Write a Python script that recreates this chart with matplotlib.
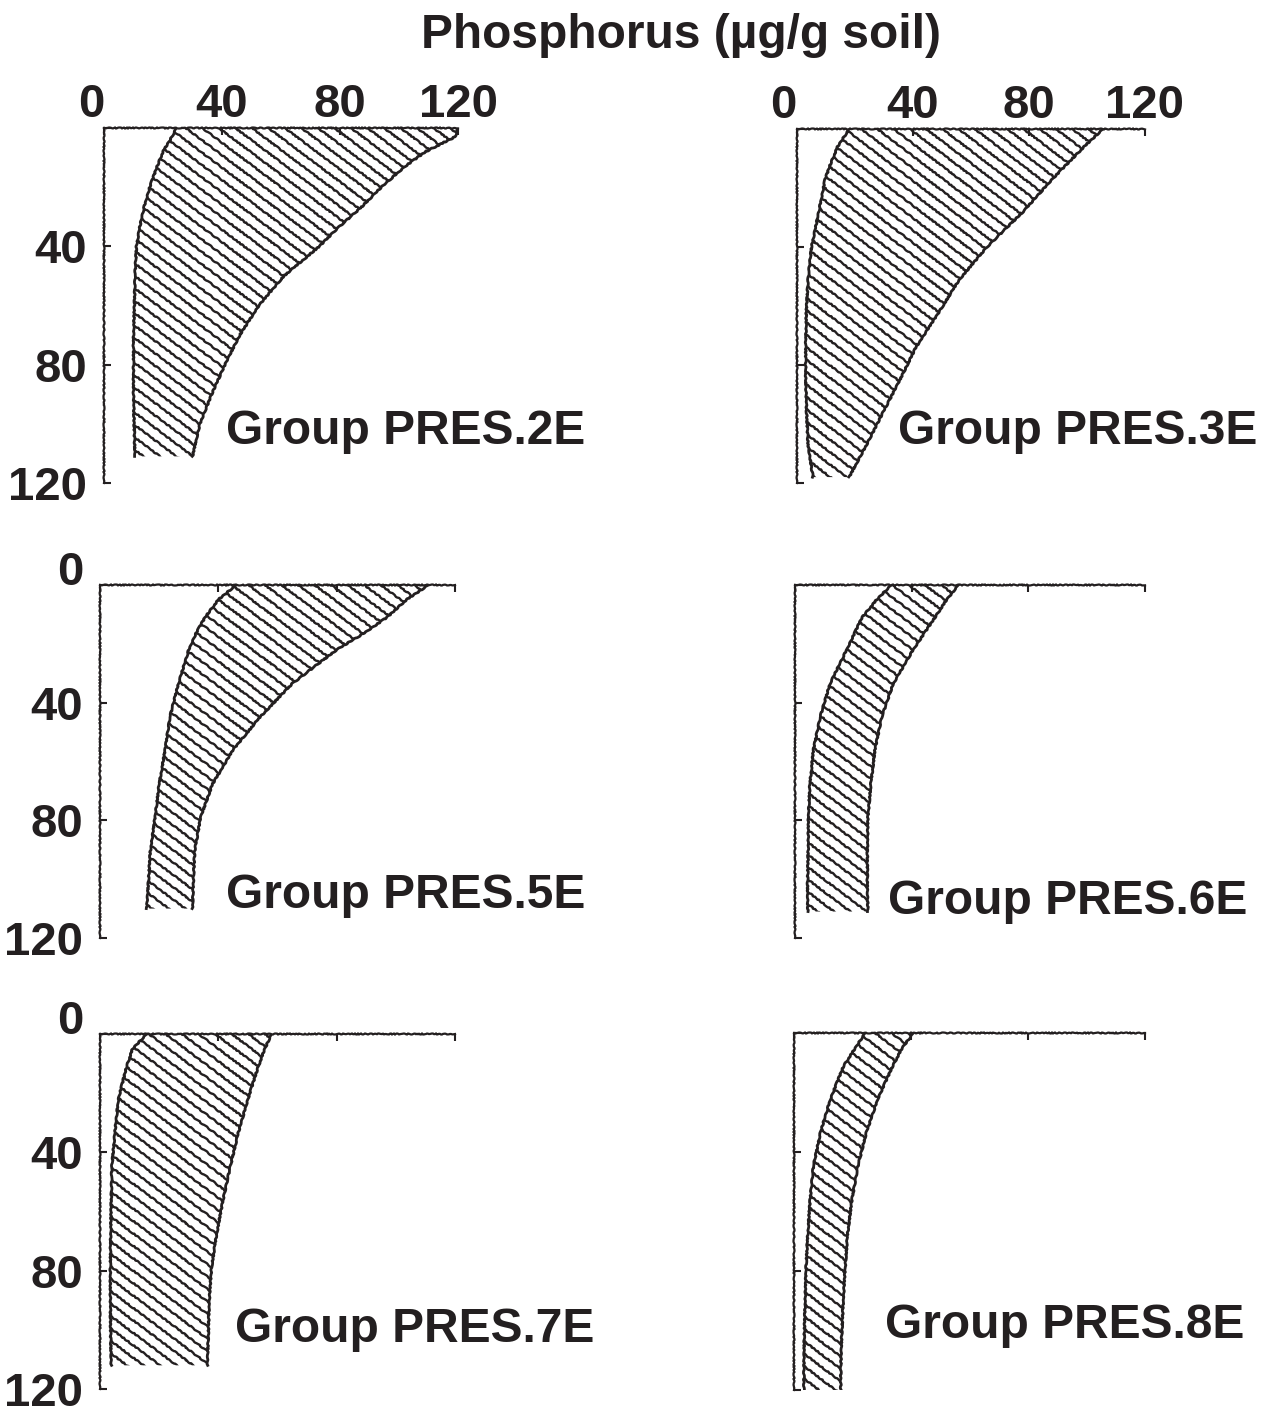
import numpy as np
import matplotlib
matplotlib.use("Agg")
import matplotlib.pyplot as plt
from matplotlib.patches import Polygon

plt.rcParams['font.family'] = ['Liberation Sans', 'DejaVu Sans']
plt.rcParams['font.weight'] = 'bold'

ink = '#231f20'

# depth (cm) and the low / high phosphorus envelope (ug/g soil) for each group
depth_2E = [0, 3, 8, 13, 20, 27, 34, 40, 50, 60, 70, 80, 90, 100, 111]
low_2E = [24.5, 23, 20, 18, 15.5, 13.5, 12, 11, 10.5, 10.3, 10, 10, 10, 10.2, 10.5]
high_2E = [120, 119, 109, 102, 94, 87, 79, 73, 61, 52.5, 46, 41, 36.5, 32.5, 30]

depth_3E = [0, 6, 12, 17, 28, 40, 51, 62, 74, 85, 96, 107, 118]
low_3E = [18, 14, 11.5, 9.7, 7.5, 5, 3.8, 3.2, 3, 3, 3.3, 3.8, 5.5]
high_3E = [105.5, 99, 93, 88, 78, 65.5, 56, 49, 41, 35.5, 29.7, 24, 18]

depth_5E = [0, 5, 11, 16.5, 22, 33.5, 45, 56, 67.7, 79, 90.5, 102, 110]
low_5E = [46, 40, 35.5, 32.4, 30, 26.5, 23.6, 22, 20, 18.6, 17, 16.3, 15.8]
high_5E = [111, 103.6, 97, 89, 80, 65, 54, 45, 38, 34, 32, 31.5, 31.3]

depth_6E = [0, 5, 11, 22, 33.5, 45, 56, 67.7, 79, 90.5, 102, 111]
low_6E = [33, 28, 23, 17.7, 12, 8.6, 6.3, 5.1, 4.6, 4.5, 4.3, 4.4]
high_6E = [56, 52, 48, 40.5, 33.7, 29.7, 27.4, 26, 25, 24.8, 24.8, 25]

depth_7E = [0, 5, 11, 22, 33.5, 45, 56, 67.7, 79, 90.5, 102, 112]
low_7E = [15.8, 11, 9, 6.2, 5, 4, 3.8, 3.6, 3.5, 3.5, 3.6, 3.8]
high_7E = [58, 55.7, 53.5, 50, 46.7, 44, 41.6, 39.4, 37.7, 36.9, 36.6, 36.3]

depth_8E = [0, 5, 11, 22, 33.5, 45, 56, 67.7, 79, 90.5, 102, 113, 120]
low_8E = [24.3, 21, 17, 12.5, 9, 6.6, 5.5, 4.7, 4.1, 3.8, 3.5, 3.4, 3.4]
high_8E = [40.8, 37, 33.8, 28.7, 24.7, 21.8, 19.8, 18.3, 17.5, 16.8, 16.3, 16, 16]

group_names = ['Group PRES.2E', 'Group PRES.3E', 'Group PRES.5E',
               'Group PRES.6E', 'Group PRES.7E', 'Group PRES.8E']
axis_ticks = [0, 40, 80, 120]
title = 'Phosphorus (\u00b5g/g soil)'

panels = [
    (depth_2E, low_2E, high_2E),
    (depth_3E, low_3E, high_3E),
    (depth_5E, low_5E, high_5E),
    (depth_6E, low_6E, high_6E),
    (depth_7E, low_7E, high_7E),
    (depth_8E, low_8E, high_8E),
]

W, H = 1267, 1419
fig = plt.figure(figsize=(W / 100, H / 100), dpi=100)

# axes boxes in pixels: left, top, right, bottom
boxes = [
    (104, 128, 458, 483),
    (797, 129, 1145, 483),
    (100, 585, 455, 938),
    (795, 585, 1145, 938),
    (100, 1034, 455, 1389),
    (794, 1033, 1145, 1390),
]
# label positions (left x, centre y) in pixels
label_pos = [(226, 432), (898, 432), (226, 895), (888, 902), (235, 1330), (885, 1325)]

sk = dict(scale=0.5, length=8, randomness=4)


def hatch(ax, patch, slope=0.75, step=4.2):
    for c in np.arange(-130, 125, step):
        xs = np.array([-5, 125])
        ln, = ax.plot(xs, slope * xs + c, color=ink, lw=1.7)
        ln.set_clip_path(patch)
        ln.set_sketch_params(**sk)


for i, (d, lo, hi) in enumerate(panels):
    l, t, r, b = boxes[i]
    ax = fig.add_axes([l / W, 1 - b / H, (r - l) / W, (b - t) / H])
    ax.set_xlim(0, 120)
    ax.set_ylim(120, 0)

    d = np.array(d, dtype=float)
    lo = np.array(lo, dtype=float)
    hi = np.array(hi, dtype=float)
    verts = np.vstack([np.column_stack([lo, d]), np.column_stack([hi[::-1], d[::-1]])])
    poly = Polygon(verts, closed=True, facecolor='none', edgecolor='none')
    ax.add_patch(poly)
    hatch(ax, poly)
    for xs in (lo, hi):
        ln, = ax.plot(xs, d, color=ink, lw=2.0)
        ln.set_sketch_params(**sk)

    for s in ['right', 'bottom']:
        ax.spines[s].set_visible(False)
    for s in ['top', 'left']:
        ax.spines[s].set_linewidth(1.6)
        ax.spines[s].set_color(ink)
        ax.spines[s].set_sketch_params(scale=0.5, length=6, randomness=4)

    ax.xaxis.tick_top()
    ax.set_xticks(axis_ticks)
    ax.set_yticks(axis_ticks)
    ax.tick_params(direction='in', length=5, width=1.5, color=ink, labelcolor=ink,
                   labelsize=34)
    ax.tick_params(axis='x', pad=1)
    ax.tick_params(axis='y', pad=12)

    if i < 2:
        ax.set_xticklabels([str(v) for v in axis_ticks])
        ax.get_xticklabels()[0].set_horizontalalignment('right')
    else:
        ax.set_xticklabels([])

    if i == 0:
        ax.set_yticklabels([''] + [str(v) for v in axis_ticks[1:]])
    elif i in (2, 4):
        ax.set_yticklabels([str(v) for v in axis_ticks])
        ax.get_yticklabels()[0].set_verticalalignment('baseline')
    else:
        ax.set_yticklabels([])

    lx, ly = label_pos[i]
    fig.text(lx / W, 1 - ly / H, group_names[i], fontsize=34.5, color=ink,
             ha='left', va='center')

fig.text(681 / W, 1 - 35 / H, title, fontsize=34.5, color=ink, ha='center', va='center')

fig.savefig('out.png', dpi=100)
